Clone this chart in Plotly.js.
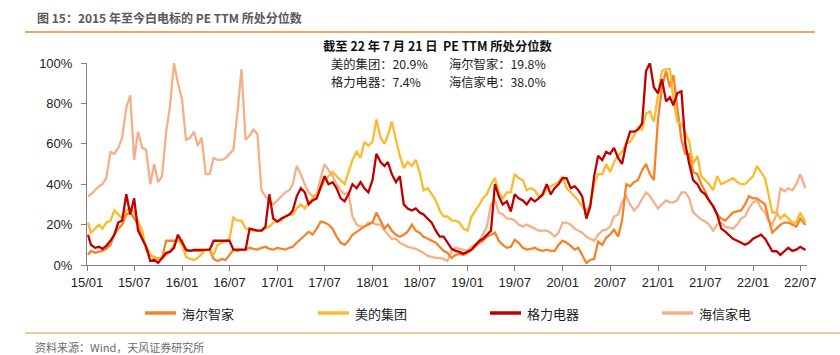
<!DOCTYPE html>
<html>
<head>
<meta charset="utf-8">
<script src="https://cdn.plot.ly/plotly-3.0.1.min.js"></script>
<style>
html,body{margin:0;padding:0;background:#fff;}
#chart{width:840px;height:355px;}
</style>
</head>
<body>
<div id="chart"></div>
<script>
// Dates (semi-monthly samples)
const dates = [
'2015-01-05','2015-01-16','2015-02-01','2015-02-16','2015-03-01','2015-03-16','2015-04-01','2015-04-16','2015-05-01','2015-05-16','2015-06-01','2015-06-16','2015-07-01','2015-07-16','2015-08-01','2015-08-16','2015-09-01','2015-09-16','2015-10-01','2015-10-16','2015-11-01','2015-11-16','2015-12-01','2015-12-16',
'2016-01-01','2016-01-16','2016-02-01','2016-02-16','2016-03-01','2016-03-16','2016-04-01','2016-04-16','2016-05-01','2016-05-16','2016-06-01','2016-06-16','2016-07-01','2016-07-16','2016-08-01','2016-08-16','2016-09-01','2016-09-16','2016-10-01','2016-10-16','2016-11-01','2016-11-16','2016-12-01','2016-12-16',
'2017-01-01','2017-01-16','2017-02-01','2017-02-16','2017-03-01','2017-03-16','2017-04-01','2017-04-16','2017-05-01','2017-05-16','2017-06-01','2017-06-16','2017-07-01','2017-07-16','2017-08-01','2017-08-16','2017-09-01','2017-09-16','2017-10-01','2017-10-16','2017-11-01','2017-11-16','2017-12-01','2017-12-16',
'2018-01-01','2018-01-16','2018-02-01','2018-02-16','2018-03-01','2018-03-16','2018-04-01','2018-04-16','2018-05-01','2018-05-16','2018-06-01','2018-06-16','2018-07-01','2018-07-16','2018-08-01','2018-08-16','2018-09-01','2018-09-16','2018-10-01','2018-10-16','2018-11-01','2018-11-16','2018-12-01','2018-12-16',
'2019-01-01','2019-01-16','2019-02-01','2019-02-16','2019-03-01','2019-03-16','2019-04-01','2019-04-16','2019-05-01','2019-05-16','2019-06-01','2019-06-16','2019-07-01','2019-07-16','2019-08-01','2019-08-16','2019-09-01','2019-09-16','2019-10-01','2019-10-16','2019-11-01','2019-11-16','2019-12-01','2019-12-16',
'2020-01-01','2020-01-16','2020-02-01','2020-02-16','2020-03-01','2020-03-16','2020-04-01','2020-04-16','2020-05-01','2020-05-16','2020-06-01','2020-06-16','2020-07-01','2020-07-16','2020-08-01','2020-08-16','2020-09-01','2020-09-16','2020-10-01','2020-10-16','2020-11-01','2020-11-16','2020-12-01','2020-12-16',
'2021-01-01','2021-01-16','2021-02-01','2021-02-16','2021-03-01','2021-03-16','2021-04-01','2021-04-16','2021-05-01','2021-05-16','2021-06-01','2021-06-16','2021-07-01','2021-07-16','2021-08-01','2021-08-16','2021-09-01','2021-09-16','2021-10-01','2021-10-16','2021-11-01','2021-11-16','2021-12-01','2021-12-16',
'2022-01-01','2022-01-16','2022-02-01','2022-02-16','2022-03-01','2022-03-16','2022-04-01','2022-04-16','2022-05-01','2022-05-16','2022-06-01','2022-06-16','2022-07-01','2022-07-21'
];

// 海尔智家
const haier = [
0.05,0.07,0.06,0.065,0.07,0.08,0.10,0.15,0.18,0.20,0.25,0.26,0.23,0.20,0.13,0.09,0.05,0.04,0.03,0.035,0.12,0.12,0.12,0.12,
0.12,0.07,0.07,0.07,0.07,0.07,0.075,0.075,0.03,0.02,0.03,0.025,0.05,0.075,0.07,0.075,0.076,0.085,0.08,0.076,0.085,0.09,0.08,0.076,
0.085,0.08,0.076,0.085,0.09,0.11,0.13,0.15,0.165,0.15,0.18,0.215,0.21,0.20,0.18,0.14,0.11,0.10,0.12,0.15,0.165,0.175,0.19,0.20,
0.21,0.26,0.22,0.18,0.20,0.17,0.15,0.14,0.15,0.165,0.20,0.17,0.16,0.14,0.13,0.12,0.11,0.09,0.07,0.06,0.035,0.05,0.055,0.05,
0.06,0.075,0.095,0.11,0.12,0.14,0.15,0.16,0.12,0.10,0.085,0.09,0.125,0.11,0.085,0.076,0.08,0.085,0.075,0.07,0.076,0.07,0.07,0.10,
0.12,0.11,0.095,0.076,0.085,0.05,0.01,0.025,0.03,0.115,0.10,0.135,0.15,0.175,0.14,0.22,0.40,0.39,0.41,0.42,0.47,0.50,0.45,0.42,
0.72,0.88,0.96,0.88,0.94,0.78,0.62,0.55,0.55,0.46,0.45,0.40,0.365,0.32,0.29,0.25,0.23,0.22,0.24,0.26,0.265,0.27,0.30,0.34,
0.33,0.33,0.315,0.30,0.23,0.16,0.18,0.20,0.21,0.21,0.20,0.19,0.23,0.198
];

// 美的集团
const midea = [
0.21,0.16,0.18,0.20,0.18,0.21,0.22,0.27,0.25,0.23,0.27,0.28,0.26,0.22,0.17,0.075,0.05,0.035,0.035,0.03,0.05,0.07,0.10,0.125,
0.10,0.04,0.03,0.025,0.035,0.055,0.075,0.076,0.05,0.10,0.11,0.115,0.13,0.235,0.22,0.22,0.18,0.175,0.17,0.17,0.17,0.18,0.19,0.21,
0.215,0.22,0.24,0.25,0.25,0.28,0.30,0.28,0.31,0.33,0.35,0.38,0.42,0.44,0.46,0.44,0.42,0.40,0.46,0.52,0.56,0.53,0.61,0.59,
0.61,0.72,0.63,0.60,0.64,0.71,0.62,0.54,0.48,0.51,0.49,0.52,0.46,0.37,0.38,0.35,0.32,0.27,0.24,0.24,0.22,0.22,0.21,0.18,
0.17,0.24,0.27,0.30,0.33,0.35,0.40,0.43,0.36,0.33,0.36,0.36,0.45,0.43,0.42,0.37,0.38,0.37,0.34,0.34,0.38,0.39,0.40,0.41,
0.44,0.38,0.36,0.34,0.32,0.29,0.265,0.30,0.40,0.45,0.45,0.50,0.46,0.51,0.54,0.56,0.60,0.61,0.64,0.68,0.67,0.75,0.76,0.71,
0.84,0.96,0.97,0.97,0.82,0.71,0.70,0.65,0.61,0.50,0.54,0.44,0.42,0.40,0.37,0.44,0.40,0.41,0.42,0.43,0.41,0.40,0.40,0.42,
0.44,0.49,0.46,0.43,0.35,0.26,0.26,0.23,0.25,0.23,0.21,0.21,0.26,0.209
];

// 格力电器
const gree = [
0.15,0.10,0.085,0.09,0.08,0.095,0.12,0.15,0.21,0.22,0.35,0.25,0.33,0.17,0.13,0.09,0.02,0.026,0.01,0.035,0.06,0.065,0.085,0.15,
0.11,0.076,0.07,0.075,0.075,0.075,0.075,0.076,0.12,0.12,0.12,0.12,0.12,0.076,0.076,0.076,0.076,0.18,0.175,0.17,0.17,0.19,0.35,0.23,
0.215,0.23,0.24,0.25,0.27,0.34,0.38,0.36,0.30,0.32,0.33,0.38,0.44,0.40,0.41,0.38,0.33,0.315,0.35,0.40,0.38,0.41,0.38,0.36,
0.42,0.55,0.51,0.49,0.51,0.45,0.41,0.44,0.30,0.28,0.27,0.28,0.26,0.25,0.23,0.21,0.17,0.14,0.14,0.11,0.08,0.07,0.065,0.055,
0.068,0.076,0.10,0.12,0.13,0.15,0.17,0.40,0.34,0.30,0.315,0.265,0.35,0.33,0.32,0.30,0.33,0.315,0.33,0.35,0.40,0.35,0.38,0.40,
0.43,0.43,0.38,0.39,0.37,0.34,0.23,0.29,0.44,0.54,0.52,0.56,0.55,0.58,0.53,0.50,0.60,0.66,0.66,0.67,0.70,0.96,1.00,0.88,
0.85,0.92,0.81,0.83,0.79,0.85,0.86,0.60,0.50,0.42,0.40,0.365,0.35,0.32,0.29,0.25,0.18,0.165,0.145,0.13,0.12,0.11,0.10,0.11,
0.13,0.14,0.15,0.13,0.10,0.068,0.068,0.05,0.068,0.085,0.07,0.076,0.09,0.074
];

// 海信家电
const hisense = [
0.34,0.35,0.37,0.39,0.40,0.43,0.56,0.55,0.58,0.63,0.78,0.84,0.52,0.66,0.58,0.57,0.40,0.50,0.41,0.44,0.66,0.79,1.00,0.90,
0.82,0.62,0.63,0.66,0.59,0.63,0.45,0.45,0.53,0.52,0.52,0.53,0.55,0.57,0.76,0.97,0.62,0.64,0.67,0.65,0.37,0.34,0.32,0.30,
0.32,0.34,0.36,0.37,0.40,0.49,0.45,0.40,0.36,0.34,0.35,0.43,0.50,0.47,0.44,0.40,0.37,0.35,0.36,0.24,0.20,0.19,0.19,0.21,
0.21,0.20,0.20,0.17,0.15,0.13,0.13,0.11,0.10,0.09,0.085,0.08,0.07,0.06,0.045,0.04,0.035,0.035,0.03,0.02,0.07,0.085,0.08,0.075,
0.07,0.09,0.10,0.12,0.15,0.19,0.30,0.32,0.26,0.25,0.23,0.23,0.22,0.20,0.19,0.20,0.19,0.18,0.17,0.17,0.17,0.16,0.14,0.16,
0.21,0.21,0.20,0.18,0.17,0.16,0.14,0.13,0.12,0.15,0.17,0.175,0.19,0.24,0.25,0.31,0.34,0.30,0.27,0.29,0.33,0.36,0.34,0.31,
0.28,0.30,0.32,0.31,0.31,0.32,0.36,0.36,0.33,0.26,0.24,0.225,0.215,0.20,0.17,0.20,0.21,0.19,0.185,0.18,0.20,0.23,0.24,0.28,
0.31,0.32,0.28,0.26,0.22,0.20,0.25,0.38,0.365,0.38,0.37,0.40,0.45,0.38
];

const seriesNames = ['海尔智家','美的集团','格力电器','海信家电'];
const seriesColors = ['#F5832A','#FCBA2C','#C00000','#F5B088'];
const latestLabels = ['美的集团：20.9%','海尔智家：19.8%','格力电器：7.4%','海信家电：38.0%'];
const titleText = '图 15：2015 年至今白电标的 PE TTM 所处分位数';
const noteTitle = '截至 22 年 7 月 21 日  PE TTM 所处分位数';
const sourceText = '资料来源：Wind，天风证券研究所';

const values = [haier, midea, gree, hisense];
const drawOrder = [3, 0, 1, 2];
const traces = drawOrder.map(i => ({
  type: 'scatter', mode: 'lines', x: dates, y: values[i],
  name: seriesNames[i], showlegend: false,
  line: {color: seriesColors[i], width: 2.3},
  hoverinfo: 'skip'
}));

const PL = 87, PR = 33, PT = 63, PB = 90, W = 840, H = 355;
const pw = W - PL - PR, ph = H - PT - PB;
const px = v => (v - PL) / pw;
const py = v => (H - PB - v) / ph;

const cjk = '"Noto Sans CJK SC", "Microsoft YaHei", sans-serif';

// legend drawn as line keys + labels (positions in pixels)
const legendX = [145, 318, 490, 662];
const legendY = 313;
const legendShapes = seriesNames.map((n, i) => ({
  type: 'line', xref: 'paper', yref: 'paper',
  x0: px(legendX[i]), x1: px(legendX[i] + 31), y0: py(legendY), y1: py(legendY),
  line: {color: seriesColors[i], width: 3.5}
}));
const legendLabels = seriesNames.map((n, i) => ({
  xref: 'paper', yref: 'paper', x: px(legendX[i] + 35), y: py(legendY),
  xanchor: 'left', yanchor: 'middle', showarrow: false,
  text: n, font: {family: cjk, size: 13, color: '#222'}
}));

const noteRows = [[329, 63.5], [447, 63.5], [329, 81.5], [447, 81.5]];
const noteAnns = latestLabels.map((t, i) => ({
  xref: 'paper', yref: 'paper', x: px(noteRows[i][0]), y: py(noteRows[i][1]),
  xanchor: 'left', yanchor: 'middle', showarrow: false,
  text: t, font: {family: cjk, size: 12.3, color: '#222'}
}));

const layout = {
  width: W, height: H,
  margin: {l: PL, r: PR, t: PT, b: PB, pad: 0},
  paper_bgcolor: '#ffffff', plot_bgcolor: '#ffffff',
  showlegend: false,
  xaxis: {
    type: 'date', range: ['2015-01-01', '2022-07-27'],
    tick0: '2015-01-01', dtick: 'M6', tickformat: '%y/%m',
    showgrid: false, zeroline: false,
    showline: true, linecolor: '#7f7f7f', linewidth: 1,
    ticks: 'outside', ticklen: 5, tickcolor: '#7f7f7f',
    tickfont: {family: 'Liberation Sans, Arial, sans-serif', size: 13, color: '#222'},
    fixedrange: true
  },
  yaxis: {
    range: [0, 1], dtick: 0.2, tickformat: '.0%',
    showgrid: false, zeroline: false,
    showline: true, linecolor: '#7f7f7f', linewidth: 1,
    ticks: 'outside', ticklen: 5, tickcolor: '#7f7f7f', ticklabelstandoff: 6,
    tickfont: {family: 'Liberation Sans, Arial, sans-serif', size: 13, color: '#222'},
    fixedrange: true
  },
  shapes: [
    {type: 'line', xref: 'paper', yref: 'paper', x0: px(25), x1: px(815), y0: py(32), y1: py(32), line: {color: '#F08A2C', width: 1.5}},
    {type: 'line', xref: 'paper', yref: 'paper', x0: px(25), x1: px(840), y0: py(333), y1: py(333), line: {color: '#F6B27A', width: 1.5}}
  ].concat(legendShapes),
  annotations: [
    {xref: 'paper', yref: 'paper', x: px(35), y: py(17), xanchor: 'left', yanchor: 'middle', showarrow: false,
     text: '<b>' + titleText + '</b>', font: {family: cjk, size: 12, color: '#595959'}},
    {xref: 'paper', yref: 'paper', x: px(437), y: py(46), xanchor: 'center', yanchor: 'middle', showarrow: false,
     text: '<b>' + noteTitle + '</b>', font: {family: cjk, size: 12.3, color: '#111'}},
    {xref: 'paper', yref: 'paper', x: px(33), y: py(347), xanchor: 'left', yanchor: 'middle', showarrow: false,
     text: sourceText, font: {family: cjk, size: 11, color: '#6b6b6b'}}
  ].concat(noteAnns, legendLabels)
};

Plotly.newPlot('chart', traces, layout, {displayModeBar: false, staticPlot: true});
</script>
</body>
</html>
